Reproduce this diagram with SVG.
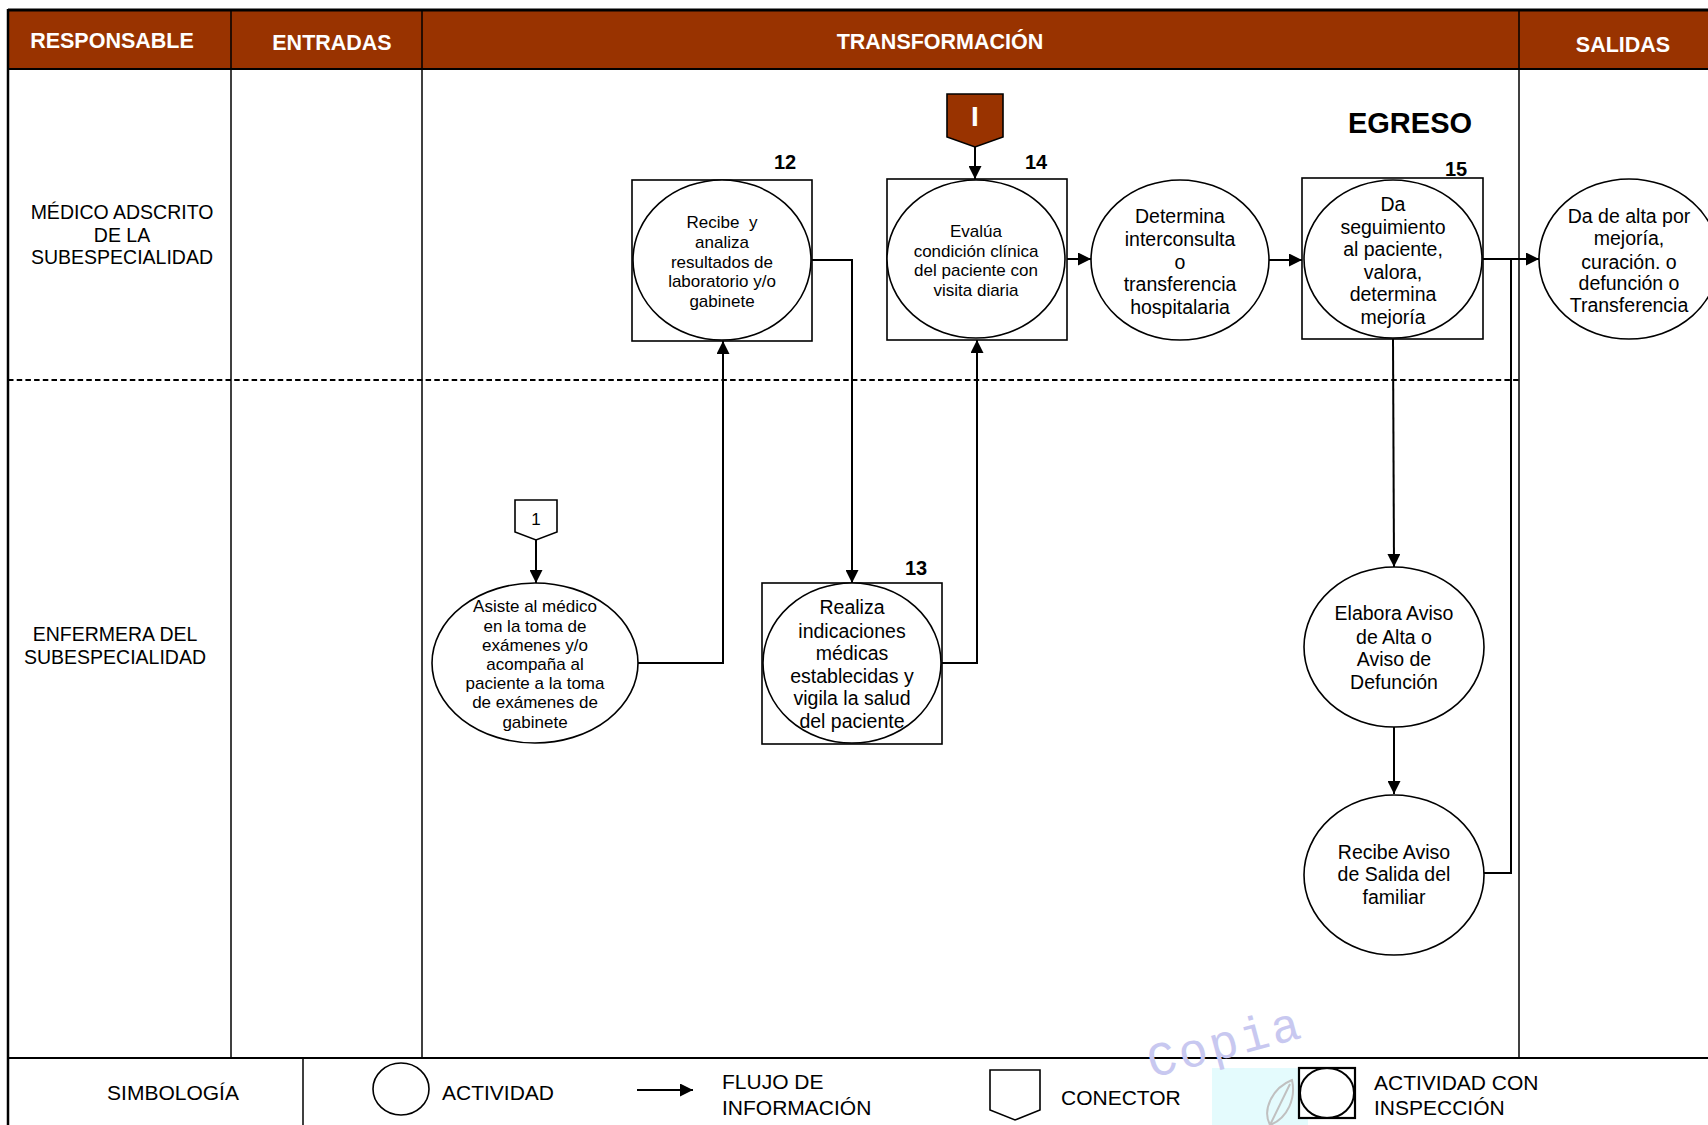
<svg xmlns="http://www.w3.org/2000/svg" width="1708" height="1125" viewBox="0 0 1708 1125">
<defs>
<style>
.t{font-family:"Liberation Sans",Arial,sans-serif;fill:#000;text-anchor:middle}
.hd{font-family:"Liberation Sans",Arial,sans-serif;font-weight:bold;fill:#fff;font-size:21.5px;text-anchor:middle}
.num{font-family:"Liberation Sans",Arial,sans-serif;font-weight:bold;font-size:20px;fill:#000;text-anchor:middle}
.s17{font-size:17px}
.s19{font-size:19.5px}
.lane{font-size:19.5px}
.leg{font-family:"Liberation Sans",Arial,sans-serif;font-size:21px;fill:#000}
.node{fill:#fff;stroke:#000;stroke-width:1.6}
.box{fill:#fff;stroke:#000;stroke-width:1.6}
.grid{stroke:#000;stroke-width:1.5;fill:none}
.conn{fill:none;stroke:#000;stroke-width:2}
</style>
<marker id="ah" viewBox="0 0 14 14" refX="14" refY="7" markerWidth="14" markerHeight="13" markerUnits="userSpaceOnUse" orient="auto">
<path d="M0,0 L14,7 L0,14 z" fill="#000"/>
</marker>
</defs>
<rect x="0" y="0" width="1708" height="1125" fill="#fff"/>

<g id="frame">
<rect x="8" y="10" width="1700" height="59" fill="#993300"/>
<line x1="8" y1="10" x2="1708" y2="10" stroke="#000" stroke-width="3"/>
<line x1="8" y1="69" x2="1708" y2="69" stroke="#000" stroke-width="2"/>
<line x1="8" y1="9" x2="8" y2="1125" stroke="#000" stroke-width="2.5"/>
<line class="grid" x1="231" y1="10" x2="231" y2="1058"/>
<line class="grid" x1="422" y1="10" x2="422" y2="1058"/>
<line class="grid" x1="1519" y1="10" x2="1519" y2="1058"/>
<line x1="8" y1="380" x2="1519" y2="380" stroke="#000" stroke-width="2" stroke-dasharray="5.5 3.2"/>
<line x1="8" y1="1058" x2="1708" y2="1058" stroke="#000" stroke-width="2"/>
<line class="grid" x1="303" y1="1058" x2="303" y2="1125"/>
<text class="hd" x="112" y="48">RESPONSABLE</text>
<text class="hd" x="332" y="50">ENTRADAS</text>
<text class="hd" x="940" y="49">TRANSFORMACIÓN</text>
<text class="hd" x="1623" y="52">SALIDAS</text>
<text class="t lane" x="122"><tspan x="122" y="219">MÉDICO ADSCRITO</tspan><tspan x="122" y="242">DE LA</tspan><tspan x="122" y="264">SUBESPECIALIDAD</tspan></text>
<text class="t lane" x="115"><tspan x="115" y="641">ENFERMERA DEL</tspan><tspan x="115" y="664">SUBESPECIALIDAD</tspan></text>
<text class="num" x="1410" y="133" style="font-size:29px">EGRESO</text>
</g>

<g id="connectors">
<path class="conn" d="M975,147 V179" marker-end="url(#ah)"/>
<path class="conn" d="M536,540 V583" marker-end="url(#ah)"/>
<path class="conn" d="M638,663 H723 V341" marker-end="url(#ah)"/>
<path class="conn" d="M812,260 H852 V583" marker-end="url(#ah)"/>
<path class="conn" d="M942,663 H977 V340" marker-end="url(#ah)"/>
<path class="conn" d="M1067,259 H1091" marker-end="url(#ah)"/>
<path class="conn" d="M1269,260 H1302" marker-end="url(#ah)"/>
<path class="conn" d="M1483,259 H1539" marker-end="url(#ah)"/>
<path class="conn" d="M1393,339 L1394,567" marker-end="url(#ah)"/>
<path class="conn" d="M1394,727 V794" marker-end="url(#ah)"/>
<path class="conn" d="M1484,873 H1511 V259"/>
</g>

<g id="connI">
<polygon points="947,94 1003,94 1003,137 975,147 947,137" fill="#993300" stroke="#000" stroke-width="1.6"/>
<text class="hd" x="975" y="126" style="font-size:28px">I</text>
</g>

<g id="conn1">
<polygon points="515,500 557,500 557,532 536,540 515,532" fill="#fff" stroke="#000" stroke-width="1.6"/>
<text class="t" x="536" y="525" style="font-size:17px">1</text>
</g>

<g id="node12">
<rect class="box" x="632" y="180" width="180" height="161"/>
<ellipse class="node" cx="722" cy="260" rx="89" ry="80"/>
<text class="t s17" xml:space="preserve"><tspan x="722" y="228">Recibe  y</tspan><tspan x="722" y="248">analiza</tspan><tspan x="722" y="268">resultados de</tspan><tspan x="722" y="287">laboratorio y/o</tspan><tspan x="722" y="307">gabinete</tspan></text>
<text class="num" x="785" y="169">12</text>
</g>

<g id="node14">
<rect class="box" x="887" y="179" width="180" height="161"/>
<ellipse class="node" cx="976" cy="259" rx="89" ry="79"/>
<text class="t s17"><tspan x="976" y="237">Evalúa</tspan><tspan x="976" y="257">condición clínica</tspan><tspan x="976" y="276">del paciente con</tspan><tspan x="976" y="296">visita diaria</tspan></text>
<text class="num" x="1036" y="169">14</text>
</g>

<g id="nodeDetermina">
<ellipse class="node" cx="1180" cy="260" rx="89" ry="80"/>
<text class="t s19"><tspan x="1180" y="223">Determina</tspan><tspan x="1180" y="246">interconsulta</tspan><tspan x="1180" y="269">o</tspan><tspan x="1180" y="291">transferencia</tspan><tspan x="1180" y="314">hospitalaria</tspan></text>
</g>

<g id="node15">
<rect class="box" x="1302" y="178" width="181" height="161"/>
<ellipse class="node" cx="1393" cy="259" rx="89" ry="79"/>
<text class="t s19"><tspan x="1393" y="211">Da</tspan><tspan x="1393" y="234">seguimiento</tspan><tspan x="1393" y="256">al paciente,</tspan><tspan x="1393" y="279">valora,</tspan><tspan x="1393" y="301">determina</tspan><tspan x="1393" y="324">mejoría</tspan></text>
<text class="num" x="1456" y="176">15</text>
</g>

<g id="nodeAlta">
<ellipse class="node" cx="1629" cy="259" rx="90" ry="80"/>
<text class="t s19"><tspan x="1629" y="223">Da de alta por</tspan><tspan x="1629" y="245">mejoría,</tspan><tspan x="1629" y="269">curación. o</tspan><tspan x="1629" y="290">defunción o</tspan><tspan x="1629" y="312">Transferencia</tspan></text>
</g>

<g id="nodeAsiste">
<ellipse class="node" cx="535" cy="663" rx="103" ry="80"/>
<text class="t s17"><tspan x="535" y="612">Asiste al médico</tspan><tspan x="535" y="632">en la toma de</tspan><tspan x="535" y="651">exámenes y/o</tspan><tspan x="535" y="670">acompaña al</tspan><tspan x="535" y="689">paciente a la toma</tspan><tspan x="535" y="708">de exámenes de</tspan><tspan x="535" y="728">gabinete</tspan></text>
</g>

<g id="node13">
<rect class="box" x="762" y="583" width="180" height="161"/>
<ellipse class="node" cx="852" cy="663" rx="89" ry="80"/>
<text class="t s19"><tspan x="852" y="614">Realiza</tspan><tspan x="852" y="638">indicaciones</tspan><tspan x="852" y="660">médicas</tspan><tspan x="852" y="683">establecidas y</tspan><tspan x="852" y="705">vigila la salud</tspan><tspan x="852" y="728">del paciente</tspan></text>
<text class="num" x="916" y="575">13</text>
</g>

<g id="nodeElabora">
<ellipse class="node" cx="1394" cy="647" rx="90" ry="80"/>
<text class="t s19"><tspan x="1394" y="620">Elabora Aviso</tspan><tspan x="1394" y="644">de Alta o</tspan><tspan x="1394" y="666">Aviso de</tspan><tspan x="1394" y="689">Defunción</tspan></text>
</g>

<g id="nodeRecibeAviso">
<ellipse class="node" cx="1394" cy="875" rx="90" ry="80"/>
<text class="t s19"><tspan x="1394" y="859">Recibe Aviso</tspan><tspan x="1394" y="881">de Salida del</tspan><tspan x="1394" y="904">familiar</tspan></text>
</g>

<g id="watermark">
<rect x="1212" y="1068" width="96" height="57" fill="#e4fbfd"/>
<path d="M1270,1125 C1262,1110 1272,1088 1292,1080 C1296,1098 1288,1118 1270,1125 z M1270,1125 L1290,1084" fill="none" stroke="#c0c0c0" stroke-width="2"/>
<text x="1152" y="1078" transform="rotate(-15 1152 1078)" style="font-family:'Liberation Mono',monospace;font-size:48px;fill:#c8c8f0;letter-spacing:3px">Copia</text>
</g>

<g id="legend">
<text class="leg" x="173" y="1100" text-anchor="middle">SIMBOLOGÍA</text>
<ellipse class="node" cx="401" cy="1089" rx="28" ry="26"/>
<text class="leg" x="442" y="1100">ACTIVIDAD</text>
<path class="conn" d="M637,1090 H693" marker-end="url(#ah)"/>
<text class="leg"><tspan x="722" y="1089">FLUJO DE</tspan><tspan x="722" y="1115">INFORMACIÓN</tspan></text>
<polygon points="990,1070 1040,1070 1040,1110 1015,1120 990,1110" fill="#fff" stroke="#000" stroke-width="1.6"/>
<text class="leg" x="1061" y="1105">CONECTOR</text>
<rect x="1299" y="1068" width="56" height="50" fill="#fff" stroke="#000" stroke-width="2.2"/>
<ellipse cx="1327" cy="1093" rx="27" ry="25" fill="none" stroke="#000" stroke-width="2"/>
<text class="leg"><tspan x="1374" y="1090">ACTIVIDAD CON</tspan><tspan x="1374" y="1115">INSPECCIÓN</tspan></text>
</g>
</svg>
